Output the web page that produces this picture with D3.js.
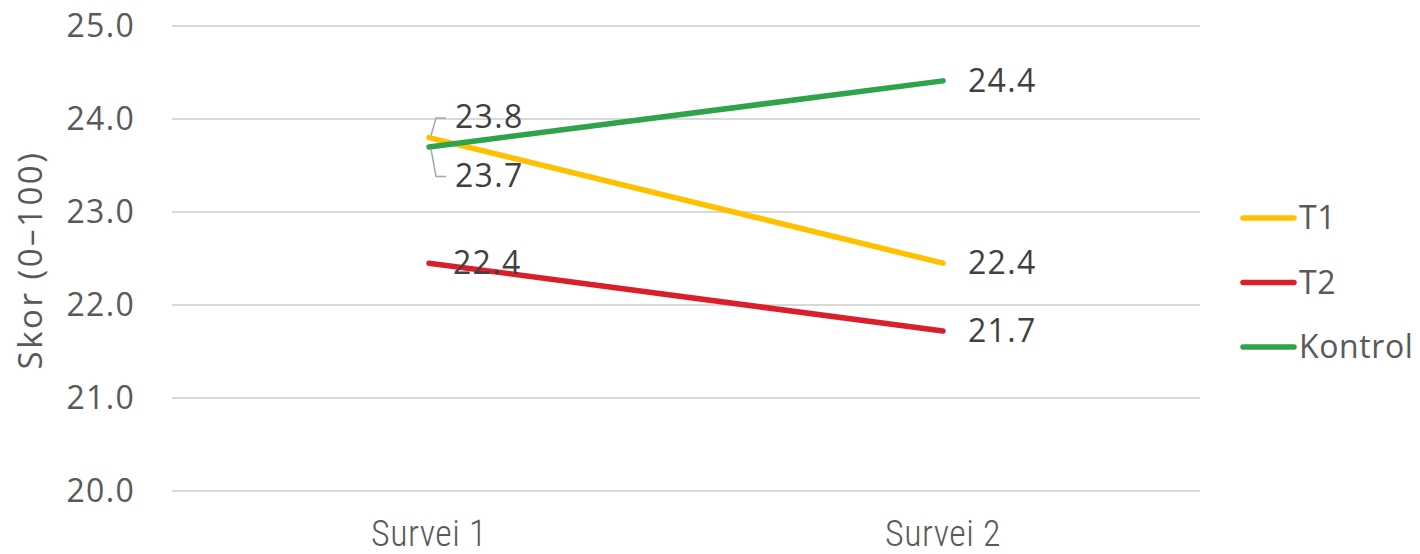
<!DOCTYPE html>
<html><head><meta charset="utf-8">
<script src="https://cdn.jsdelivr.net/npm/d3@7"></script>
<style>body{margin:0;background:#fff}svg{display:block}</style>
</head><body><svg id="c" width="1420" height="554"></svg>
<script>
const categories = ["Survei 1", "Survei 2"];
const seriesNames = ["T1", "T2", "Kontrol"];
const t1Values = [23.8, 22.45];
const t2Values = [22.45, 21.72];
const kontrolValues = [23.7, 24.41];
const dataLabelsT1 = ["23.8", "22.4"];
const dataLabelsT2 = ["22.4", "21.7"];
const dataLabelsKontrol = ["23.7", "24.4"];
const yTicks = [20, 21, 22, 23, 24, 25];
const colors = ["#FFC000", "#DA1F2B", "#2EA34C"];

const series = [
  {name: seriesNames[0], values: t1Values, labels: dataLabelsT1, color: colors[0]},
  {name: seriesNames[1], values: t2Values, labels: dataLabelsT2, color: colors[1]},
  {name: seriesNames[2], values: kontrolValues, labels: dataLabelsKontrol, color: colors[2]}
];

const FONT = "Open Sans, sans-serif";
const FS = 32;
const svg = d3.select("#c");
const mLeft = 172, mRight = 1200, mTop = 26, mBottom = 491;
const x = d3.scaleBand().domain(categories).range([mLeft, mRight]);
const y = d3.scaleLinear().domain([20, 25]).range([mBottom, mTop]);

// gridlines
svg.append("g").selectAll("line").data(yTicks).join("line")
  .attr("x1", mLeft).attr("x2", mRight)
  .attr("y1", d => y(d)).attr("y2", d => y(d))
  .attr("stroke", "#d9d9d9").attr("stroke-width", 2);

// y axis labels
const yAxis = svg.append("g").attr("transform", `translate(${mLeft},0)`)
  .call(d3.axisLeft(y).tickValues(yTicks).tickFormat(d3.format(".1f")).tickSize(0).tickPadding(37));
yAxis.select(".domain").remove();
yAxis.selectAll("text").attr("font-family", FONT).attr("font-size", FS).attr("fill", "#595959")
  .attr("letter-spacing", 1.3);

// x axis labels
const xAxis = svg.append("g").attr("transform", `translate(0,${mBottom})`)
  .call(d3.axisBottom(x).tickSize(0).tickPadding(35));
xAxis.select(".domain").remove();
xAxis.selectAll("text").attr("font-family", "Liberation Sans Narrow, Roboto Condensed, sans-serif")
  .attr("font-size", 36).attr("font-weight", 300).attr("fill", "#5a5a5a").attr("dy", "0.55em")
  .attr("letter-spacing", 0.5);

// y title
svg.append("text").attr("transform", `translate(42,260) rotate(-90)`)
  .attr("text-anchor", "middle").attr("font-family", FONT).attr("font-size", 33)
  .attr("fill", "#595959").attr("letter-spacing", 2.5).text("Skor (0–100)");

const cx = d => x(d) + x.bandwidth() / 2;
const line = d3.line().x((d, i) => cx(categories[i])).y(d => y(d));

svg.append("g").selectAll("path").data(series).join("path")
  .attr("d", d => line(d.values))
  .attr("fill", "none").attr("stroke", d => d.color).attr("stroke-width", 5.5)
  .attr("stroke-linecap", "round");

// leader lines for overlapping labels at Survei 1
const lead = svg.append("g").attr("fill", "none").attr("stroke", "#a6a6a6").attr("stroke-width", 1.5);
const p1 = [cx(categories[0]), y(t1Values[0])];
const p3 = [cx(categories[0]), y(kontrolValues[0])];
lead.append("path").attr("d", `M${p1[0]+2},${p1[1]-2} L${p1[0]+7},${y(24)-1} L${p1[0]+17},${y(24)-1}`);
lead.append("path").attr("d", `M${p3[0]+2},${p3[1]+2} L${p3[0]+7},${y(23.5)+11} L${p3[0]+17},${y(23.5)+11}`);

// data labels
const labelG = svg.append("g").attr("font-family", FONT).attr("font-size", FS).attr("fill", "#404040")
  .attr("letter-spacing", 1.3);
const labelPos = [
  [0, 0, 26, -21],
  [0, 1, 25, 0],
  [1, 0, 24, 0],
  [1, 1, 25, 0],
  [2, 0, 26, 29],
  [2, 1, 25, 0]
];
labelPos.forEach(([s, c, dx, dy]) => {
  const sr = series[s];
  labelG.append("text")
    .attr("x", cx(categories[c]) + dx)
    .attr("y", y(sr.values[c]) + dy)
    .attr("dy", "0.35em")
    .text(sr.labels[c]);
});

// legend
const leg = svg.append("g");
series.forEach((s, i) => {
  const ly = 218 + i * 64.5;
  leg.append("line").attr("x1", 1243).attr("x2", 1294).attr("y1", ly).attr("y2", ly)
    .attr("stroke", s.color).attr("stroke-width", 5.5).attr("stroke-linecap", "round");
  leg.append("text").attr("x", 1299).attr("y", ly).attr("dy", "0.35em")
    .attr("font-family", FONT).attr("font-size", FS).attr("fill", "#595959")
    .attr("letter-spacing", 0.6).text(s.name);
});
</script></body></html>
